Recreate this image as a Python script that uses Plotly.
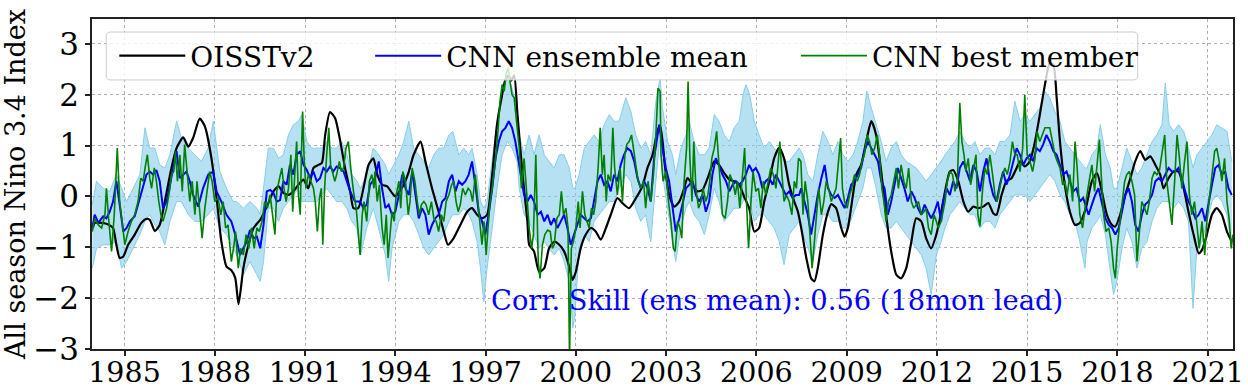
import plotly.graph_objects as go

# ---------------- data (decimal years, index values) ----------------
obs_t = [1983.95,1984.01,1984.24,1984.46,1984.62,1984.73,1984.84,1984.96,1985.12,1985.34,1985.56,1985.73,1985.84,
         1986.01,1986.17,1986.34,1986.56,1986.73,1986.95,1987.12,1987.28,1987.5,1987.67,1987.89,1988.06,1988.22,
         1988.39,1988.55,1988.68,1988.79,1988.95,1989.12,1989.29,1989.51,1989.73,1989.95,1990.12,1990.28,1990.45,
         1990.61,1990.78,1990.95,1991.11,1991.28,1991.44,1991.56,1991.67,1991.83,1992.0,1992.16,1992.33,1992.5,
         1992.61,1992.77,1992.94,1993.11,1993.27,1993.4,1993.56,1993.73,1993.89,1994.0,1994.17,1994.28,1994.45,
         1994.61,1994.84,1995.0,1995.22,1995.44,1995.61,1995.75,1995.94,1996.16,1996.39,1996.55,1996.72,1996.88,
         1997.05,1997.22,1997.38,1997.55,1997.66,1997.77,1997.85,1997.95,1998.06,1998.23,1998.39,1998.45,1998.61,
         1998.78,1998.95,1999.11,1999.28,1999.45,1999.61,1999.78,1999.89,2000.0,2000.16,2000.33,2000.5,2000.66,
         2000.83,2001.0,2001.16,2001.38,2001.55,2001.77,2002.0,2002.21,2002.38,2002.55,2002.71,2002.8,2002.88,
         2002.96,2003.1,2003.27,2003.44,2003.6,2003.71,2003.88,2004.04,2004.21,2004.38,2004.6,2004.76,2004.93,
         2005.1,2005.26,2005.43,2005.59,2005.76,2005.93,2006.09,2006.26,2006.43,2006.59,2006.76,2006.92,2007.09,
         2007.26,2007.38,2007.49,2007.66,2007.82,2007.93,2008.04,2008.21,2008.38,2008.49,2008.65,2008.82,2008.93,
         2009.04,2009.21,2009.32,2009.48,2009.65,2009.82,2009.98,2010.15,2010.31,2010.48,2010.65,2010.81,2010.98,
         2011.15,2011.31,2011.48,2011.64,2011.81,2011.98,2012.1,2012.27,2012.43,2012.54,2012.71,2012.88,2013.04,
         2013.21,2013.37,2013.54,2013.71,2013.87,2013.98,2014.15,2014.31,2014.48,2014.65,2014.76,2014.92,2015.09,
         2015.26,2015.42,2015.59,2015.75,2015.87,2015.98,2016.09,2016.25,2016.42,2016.59,2016.75,2016.95,2017.15,
         2017.32,2017.48,2017.65,2017.82,2017.93,2018.09,2018.26,2018.43,2018.59,2018.76,2018.92,2019.09,2019.26,
         2019.42,2019.53,2019.7,2019.87,2020.03,2020.2,2020.36,2020.53,2020.7,2020.81,2020.97,2021.14,2021.3,
         2021.47,2021.64,2021.8]
obs_v = [-0.62,-0.52,-0.52,-0.55,-0.62,-0.95,-1.21,-1.18,-0.95,-0.75,-0.52,-0.44,-0.46,
         -0.68,-0.56,-0.10,0.56,0.95,1.16,0.98,1.15,1.53,1.38,0.75,-0.03,-0.89,
         -1.38,-1.45,-1.60,-2.12,-1.41,-0.95,-0.62,-0.46,-0.20,0.10,0.20,0.07,0.03,
         0.10,0.23,0.33,0.16,0.56,0.62,0.66,1.21,1.66,1.54,1.12,0.56,0.10,
         -0.23,-0.23,0.16,0.62,0.75,0.43,0.23,0.20,0.07,0.00,0.13,0.23,0.49,
         0.82,1.08,0.69,0.16,-0.30,-0.69,-0.95,-0.82,-0.56,-0.30,-0.23,-0.36,-0.43,
         -0.36,0.43,1.41,2.00,2.30,2.38,2.28,2.38,1.61,0.43,-0.49,-0.95,-1.08,
         -1.48,-1.41,-1.02,-0.89,-0.95,-1.08,-1.38,-1.64,-1.48,-1.02,-0.75,-0.62,-0.69,
         -0.85,-0.62,-0.36,-0.03,-0.13,-0.23,-0.03,0.20,0.56,0.82,1.28,1.40,1.10,
         0.60,0.03,-0.20,-0.10,0.16,0.36,0.23,0.10,0.13,0.36,0.69,0.62,0.46,
         0.33,0.30,0.23,0.00,-0.23,-0.69,-0.62,-0.10,0.30,0.75,0.96,0.75,0.23,
         -0.10,-0.30,-0.62,-1.21,-1.61,-1.67,-1.41,-0.75,-0.30,-0.15,-0.23,-0.62,-0.79,
         -0.62,0.03,0.43,0.62,1.08,1.48,1.21,0.49,-0.36,-1.08,-1.54,-1.61,-1.41,
         -0.89,-0.43,-0.49,-0.82,-1.02,-0.75,-0.43,0.10,0.49,0.52,0.30,-0.10,-0.30,
         -0.20,-0.23,-0.20,-0.13,-0.33,-0.36,0.03,0.30,0.36,0.56,0.69,0.59,0.69,
         1.08,1.61,2.20,2.62,2.59,1.94,1.08,0.23,-0.30,-0.56,-0.52,-0.23,0.30,
         0.46,0.10,-0.36,-0.56,-0.59,-0.36,0.03,0.36,0.69,0.89,0.72,0.79,0.62,
         0.43,0.16,0.36,0.49,0.49,0.16,-0.30,-0.75,-1.12,-1.05,-0.75,-0.36,-0.23,
         -0.36,-0.69,-0.89]

ens_t = [1983.93,1984.01,1984.13,1984.29,1984.4,1984.51,1984.62,1984.73,1984.84,1984.96,1985.07,1985.18,1985.34,
         1985.45,1985.56,1985.73,1985.84,1985.95,1986.06,1986.17,1986.28,1986.4,1986.51,1986.65,1986.73,1986.84,
         1986.95,1987.06,1987.17,1987.28,1987.45,1987.61,1987.78,1987.95,1988.06,1988.22,1988.39,1988.55,1988.68,
         1988.84,1988.95,1989.06,1989.17,1989.29,1989.4,1989.51,1989.62,1989.73,1989.84,1989.95,1990.06,1990.17,
         1990.28,1990.39,1990.5,1990.61,1990.72,1990.84,1990.95,1991.06,1991.17,1991.28,1991.39,1991.5,1991.61,
         1991.72,1991.83,1991.94,1992.05,1992.16,1992.28,1992.39,1992.5,1992.66,1992.83,1992.94,1993.05,1993.16,
         1993.33,1993.45,1993.56,1993.67,1993.78,1993.89,1994.0,1994.12,1994.23,1994.34,1994.45,1994.56,1994.67,
         1994.78,1994.89,1995.0,1995.11,1995.22,1995.33,1995.44,1995.56,1995.67,1995.78,1995.89,1996.0,1996.11,
         1996.22,1996.33,1996.44,1996.55,1996.66,1996.77,1996.88,1996.99,1997.1,1997.22,1997.33,1997.44,1997.55,
         1997.66,1997.77,1997.88,1997.99,1998.06,1998.17,1998.28,1998.39,1998.5,1998.61,1998.73,1998.84,1998.95,
         1999.06,1999.17,1999.28,1999.39,1999.5,1999.61,1999.72,1999.83,1999.94,2000.05,2000.16,2000.28,2000.39,
         2000.5,2000.61,2000.72,2000.83,2000.94,2001.05,2001.16,2001.27,2001.38,2001.49,2001.6,2001.71,2001.83,
         2001.94,2002.05,2002.16,2002.27,2002.38,2002.49,2002.6,2002.71,2002.77,2002.88,2002.99,2003.1,2003.21,
         2003.32,2003.44,2003.55,2003.66,2003.77,2003.88,2003.99,2004.1,2004.21,2004.32,2004.43,2004.54,2004.65,
         2004.76,2004.87,2004.99,2005.1,2005.21,2005.32,2005.43,2005.54,2005.65,2005.76,2005.87,2005.98,2006.09,
         2006.2,2006.31,2006.43,2006.54,2006.65,2006.76,2006.87,2006.98,2007.09,2007.2,2007.31,2007.42,2007.49,
         2007.6,2007.71,2007.82,2007.93,2008.04,2008.16,2008.27,2008.38,2008.49,2008.6,2008.71,2008.82,2008.93,
         2009.04,2009.15,2009.26,2009.37,2009.48,2009.59,2009.71,2009.82,2009.93,2010.04,2010.15,2010.26,2010.37,
         2010.48,2010.59,2010.7,2010.81,2010.92,2011.03,2011.15,2011.26,2011.37,2011.48,2011.59,2011.7,2011.81,
         2011.92,2012.03,2012.14,2012.21,2012.32,2012.43,2012.54,2012.65,2012.76,2012.88,2012.99,2013.1,2013.21,
         2013.32,2013.43,2013.54,2013.65,2013.76,2013.87,2013.98,2014.09,2014.2,2014.31,2014.43,2014.54,2014.65,
         2014.76,2014.87,2014.98,2015.09,2015.2,2015.31,2015.42,2015.53,2015.64,2015.75,2015.87,2015.98,2016.09,
         2016.2,2016.31,2016.42,2016.53,2016.64,2016.75,2016.86,2016.93,2017.04,2017.15,2017.26,2017.37,2017.48,
         2017.6,2017.71,2017.82,2017.93,2018.04,2018.15,2018.26,2018.37,2018.48,2018.59,2018.7,2018.81,2018.92,
         2019.03,2019.15,2019.26,2019.37,2019.48,2019.59,2019.7,2019.81,2019.92,2020.03,2020.14,2020.25,2020.36,
         2020.47,2020.59,2020.7,2020.81,2020.92,2021.03,2021.14,2021.25,2021.36,2021.47,2021.58,2021.69,2021.8]
ens_v = [-0.62,-0.36,-0.52,-0.39,-0.43,-0.30,-0.10,0.30,-0.16,-0.69,-0.62,-0.49,-0.39,
         -0.16,0.10,0.43,0.49,0.43,0.52,0.30,-0.23,-0.10,0.23,0.69,0.89,0.36,
         0.43,0.49,0.30,0.03,-0.20,0.16,0.43,0.49,0.10,-0.10,-0.36,-0.49,-0.75,
         -1.15,-1.02,-0.89,-0.66,-0.82,-0.79,-1.02,-0.56,0.10,0.13,0.07,-0.10,-0.07,
         0.30,0.23,0.62,0.43,0.82,0.89,0.62,0.52,0.36,0.49,0.30,0.36,0.56,
         0.49,0.59,0.49,0.59,0.56,0.49,0.30,0.10,-0.10,-0.10,-0.23,-0.16,0.23,
         0.36,0.69,0.16,-0.23,-0.16,-0.36,-0.30,0.03,0.43,0.16,0.03,0.49,0.03,
         -0.43,-0.23,-0.36,-0.75,-0.56,-0.43,-0.36,-0.10,-0.03,0.30,0.43,0.10,0.30,
         0.23,0.30,0.43,0.69,0.23,-0.30,-0.49,-0.75,-0.36,0.16,0.75,1.08,1.28,
         1.35,1.48,1.35,1.08,0.82,0.36,0.03,-0.10,0.03,-0.10,-0.36,-0.30,-0.49,
         -0.36,-0.56,-0.43,-0.62,-0.49,-0.36,-0.62,-0.95,-0.75,-0.56,-0.36,-0.43,-0.49,
         -0.43,-0.10,0.30,0.43,0.23,0.30,0.10,0.43,0.30,0.62,0.82,0.95,0.89,
         0.69,0.36,0.16,0.30,0.16,-0.10,0.75,1.20,1.41,0.95,0.56,0.30,-0.23,
         -0.69,-0.43,-0.10,0.16,0.23,0.30,0.03,-0.10,0.03,-0.30,-0.10,0.43,0.75,
         0.62,0.43,0.30,0.10,0.23,0.30,0.23,0.30,0.43,0.62,0.49,0.56,0.43,
         0.16,0.30,0.36,0.23,0.43,0.30,0.16,0.03,0.10,-0.03,0.03,0.03,0.16,
         -0.10,-0.36,-0.75,-0.36,0.03,0.36,0.62,0.16,0.03,-0.03,0.03,-0.10,-0.23,
         -0.03,0.23,0.30,0.43,0.56,0.89,1.08,0.95,0.82,0.69,0.30,0.16,-0.36,
         -0.10,0.23,0.56,0.36,0.16,-0.10,0.10,-0.03,-0.23,-0.36,-0.16,-0.30,-0.43,
         -0.30,-0.10,-0.49,-0.10,0.16,0.03,0.30,0.16,0.56,0.69,0.49,0.30,0.62,
         0.49,0.10,0.49,0.75,0.30,0.03,-0.10,0.23,0.49,0.23,0.43,0.69,0.95,
         0.82,0.62,0.75,0.82,0.69,0.95,0.89,1.02,1.21,1.08,0.89,0.82,0.62,
         0.43,0.49,0.30,0.10,0.16,-0.10,-0.03,-0.16,-0.36,-0.16,0.03,0.16,-0.10,
         -0.43,-0.56,-0.62,-0.75,-0.62,-0.30,0.03,0.16,-0.10,-0.56,-0.69,-0.36,-0.16,
         -0.10,0.03,0.30,0.36,0.30,0.43,0.56,0.49,0.49,0.56,0.36,0.10,-0.10,
         -0.23,-0.43,-0.36,-0.23,-0.49,-0.10,0.23,0.56,0.62,0.43,0.49,0.16,0.03]

best_t = [1983.93,1984.01,1984.13,1984.24,1984.35,1984.4,1984.48,1984.57,1984.66,1984.76,1984.84,1984.93,1985.01,
          1985.12,1985.23,1985.34,1985.45,1985.54,1985.62,1985.7,1985.76,1985.84,1985.9,1985.99,1986.06,1986.14,
          1986.21,1986.28,1986.4,1986.51,1986.56,1986.64,1986.69,1986.76,1986.84,1986.92,1987.0,1987.08,1987.17,
          1987.25,1987.34,1987.41,1987.5,1987.58,1987.67,1987.75,1987.83,1987.91,1988.0,1988.11,1988.2,1988.28,
          1988.36,1988.44,1988.55,1988.64,1988.69,1988.78,1988.86,1988.95,1989.04,1989.13,1989.22,1989.31,1989.4,
          1989.48,1989.57,1989.66,1989.75,1989.84,1989.93,1990.0,1990.06,1990.15,1990.23,1990.3,1990.37,1990.45,
          1990.53,1990.59,1990.67,1990.72,1990.78,1990.84,1990.88,1990.92,1990.97,1991.03,1991.11,1991.19,1991.28,
          1991.34,1991.41,1991.48,1991.54,1991.59,1991.65,1991.72,1991.79,1991.85,1991.92,1991.99,1992.05,1992.14,
          1992.21,1992.28,1992.36,1992.44,1992.52,1992.61,1992.7,1992.77,1992.83,1992.9,1992.96,1993.05,1993.14,
          1993.22,1993.29,1993.32,1993.4,1993.47,1993.56,1993.63,1993.7,1993.76,1993.83,1993.89,1993.96,1994.03,
          1994.12,1994.18,1994.25,1994.34,1994.43,1994.49,1994.56,1994.65,1994.73,1994.8,1994.87,1994.95,1995.02,
          1995.11,1995.2,1995.28,1995.36,1995.44,1995.53,1995.61,1995.69,1995.78,1995.87,1995.94,1996.02,1996.09,
          1996.16,1996.24,1996.33,1996.42,1996.5,1996.57,1996.66,1996.75,1996.83,1996.88,1996.95,1997.02,1997.08,
          1997.15,1997.22,1997.28,1997.35,1997.42,1997.48,1997.55,1997.62,1997.68,1997.75,1997.81,1997.88,1997.95,
          1998.04,1998.12,1998.19,1998.28,1998.37,1998.45,1998.53,1998.59,1998.67,1998.75,1998.81,1998.89,1998.97,
          1999.06,1999.15,1999.22,1999.28,1999.37,1999.45,1999.52,1999.59,1999.67,1999.74,1999.79,1999.85,1999.92,
          2000.0,2000.08,2000.14,2000.22,2000.3,2000.36,2000.44,2000.52,2000.59,2000.66,2000.74,2000.81,2000.88,
          2000.94,2001.01,2001.07,2001.16,2001.23,2001.29,2001.38,2001.47,2001.55,2001.63,2001.69,2001.77,2001.85,
          2001.91,2001.99,2002.07,2002.16,2002.25,2002.32,2002.4,2002.49,2002.58,2002.66,2002.73,2002.8,2002.83,
          2002.9,2002.99,2003.08,2003.16,2003.24,2003.3,2003.38,2003.46,2003.52,2003.6,2003.68,2003.73,2003.79,
          2003.86,2003.92,2003.99,2004.08,2004.16,2004.23,2004.32,2004.39,2004.45,2004.52,2004.6,2004.68,2004.74,
          2004.82,2004.87,2004.96,2005.04,2005.12,2005.21,2005.3,2005.37,2005.45,2005.54,2005.61,2005.67,2005.74,
          2005.82,2005.89,2005.98,2006.07,2006.15,2006.23,2006.31,2006.4,2006.48,2006.56,2006.65,2006.71,2006.78,
          2006.85,2006.92,2007.0,2007.09,2007.18,2007.26,2007.33,2007.4,2007.48,2007.55,2007.62,2007.71,2007.78,
          2007.85,2007.91,2007.99,2008.07,2008.16,2008.24,2008.32,2008.4,2008.49,2008.58,2008.65,2008.73,2008.8,
          2008.86,2008.93,2009.02,2009.1,2009.17,2009.26,2009.35,2009.43,2009.51,2009.59,2009.68,2009.76,2009.84,
          2009.93,2010.02,2010.09,2010.17,2010.24,2010.31,2010.39,2010.48,2010.57,2010.65,2010.72,2010.81,2010.9,
          2010.98,2011.06,2011.15,2011.23,2011.31,2011.39,2011.48,2011.57,2011.64,2011.72,2011.81,2011.9,2011.98,
          2012.05,2012.14,2012.19,2012.27,2012.34,2012.43,2012.52,2012.6,2012.68,2012.76,2012.83,2012.9,2012.96,
          2013.04,2013.12,2013.21,2013.3,2013.36,2013.43,2013.52,2013.6,2013.67,2013.76,2013.85,2013.93,2014.0,
          2014.09,2014.18,2014.26,2014.34,2014.43,2014.51,2014.59,2014.67,2014.76,2014.85,2014.92,2015.0,2015.09,
          2015.18,2015.26,2015.33,2015.42,2015.51,2015.59,2015.67,2015.75,2015.84,2015.92,2016.0,2016.09,2016.18,
          2016.25,2016.33,2016.42,2016.51,2016.59,2016.66,2016.75,2016.84,2016.95,2017.06,2017.15,2017.24,2017.32,
          2017.4,2017.46,2017.54,2017.62,2017.71,2017.79,2017.87,2017.93,2017.99,2018.06,2018.15,2018.24,2018.31,
          2018.39,2018.48,2018.57,2018.65,2018.73,2018.81,2018.9,2018.98,2019.06,2019.15,2019.23,2019.31,2019.39,
          2019.48,2019.57,2019.64,2019.72,2019.81,2019.9,2019.98,2020.05,2020.14,2020.23,2020.31,2020.39,2020.47,
          2020.56,2020.64,2020.72,2020.81,2020.9,2020.97,2021.05,2021.14,2021.23,2021.3,2021.38,2021.47,2021.56,
          2021.64,2021.71,2021.78,2021.84]
best_v = [-0.69,-0.43,-0.56,-0.62,-0.36,0.16,-0.49,-1.08,-0.36,0.95,-0.10,-0.62,-0.95,
          -0.69,-0.49,-0.36,-0.10,0.36,0.30,0.62,0.82,0.36,0.16,0.56,0.30,-0.10,
          -0.36,-0.49,-0.23,0.16,0.43,0.49,0.89,0.30,0.82,0.10,1.02,0.49,-0.10,
          0.30,-0.36,0.30,-0.23,-0.82,-0.23,0.10,0.49,0.30,-0.10,-0.03,-0.36,-0.10,
          -0.62,-0.56,-1.28,-0.95,-0.69,-1.41,-1.02,-1.15,-0.75,-1.02,-0.62,-1.02,-0.62,
          -0.69,-0.49,-0.10,-0.23,0.03,-0.36,-0.75,0.10,0.36,0.56,0.16,-0.10,0.16,
          0.82,-0.30,0.43,1.08,0.03,-0.36,0.82,1.67,0.75,0.16,0.43,0.30,0.16,
          -0.10,-0.69,-0.03,0.16,-0.95,0.16,0.82,1.35,0.62,0.43,0.30,0.43,0.69,
          0.49,0.56,0.95,1.08,0.56,0.10,-0.23,-0.69,-1.15,-0.36,-0.10,-0.49,0.30,
          0.43,0.16,0.49,-0.10,0.23,-0.62,-0.95,-0.36,-1.21,-0.62,-0.30,-0.49,0.03,
          0.30,-0.23,0.49,0.30,-0.36,-0.10,0.56,0.30,-0.10,-0.36,-0.16,-0.10,-0.16,
          -0.36,-0.10,-0.43,-0.49,-0.69,-0.36,-0.49,-0.10,0.03,0.23,0.30,-0.10,-0.30,
          -0.16,0.16,0.03,0.16,0.10,-0.10,0.43,-0.10,-0.69,-0.95,-0.49,-1.15,-0.62,
          -0.10,0.16,0.43,0.82,1.35,1.87,2.20,2.07,2.40,2.53,2.27,2.00,1.94,
          1.41,0.95,0.16,0.75,0.03,-0.62,-1.02,-0.75,0.82,-1.28,-1.61,-0.95,-0.75,
          -0.66,-0.69,-1.02,-0.95,-0.43,-0.36,0.10,-0.36,-0.23,-0.62,-3.20,-1.02,-0.89,
          -0.62,-0.10,-0.62,0.10,-0.36,-0.49,-0.62,-0.23,-0.36,-0.10,0.56,1.35,0.43,
          0.82,-0.10,0.43,0.30,1.35,0.56,0.03,0.56,-0.10,0.82,1.02,1.08,1.21,
          0.95,0.56,0.30,0.16,0.30,-0.23,0.30,-0.10,0.43,1.21,2.13,2.07,0.82,
          0.30,0.49,-0.10,-0.49,-1.02,-1.08,-0.49,-0.62,-0.82,0.30,0.95,2.26,0.75,
          -0.10,1.08,0.16,-0.23,-0.10,0.16,-0.10,0.03,0.30,0.75,0.95,1.28,0.75,
          0.16,-0.36,-0.43,-0.10,0.43,0.30,0.03,0.30,-0.23,0.43,0.95,-0.10,-1.02,
          -0.10,0.49,0.10,0.16,-0.23,0.30,0.03,0.30,0.56,0.43,0.16,0.56,1.08,
          0.43,-0.10,0.03,-0.10,-0.36,0.30,0.16,0.75,0.69,-0.36,0.30,-0.10,-0.75,
          -1.41,-1.02,-0.36,0.16,-0.36,-0.10,0.30,0.16,-0.10,0.03,0.16,0.69,1.15,
          0.16,-0.10,-0.23,0.03,0.16,0.43,0.30,0.43,0.69,0.82,1.21,1.08,0.82,
          0.95,1.21,0.82,0.16,-0.10,-0.49,-0.10,0.03,0.30,0.56,0.16,0.62,0.30,
          0.16,0.56,-0.10,-0.23,-0.16,-0.10,-0.36,-0.30,-0.23,-0.62,-0.75,-0.36,-0.49,
          -0.62,-0.49,-0.36,-0.10,0.30,0.49,0.43,0.10,0.30,1.84,1.08,0.82,0.49,
          0.75,0.23,0.49,0.82,-0.36,-0.59,0.16,0.56,0.43,0.82,0.43,0.03,-0.10,
          0.16,0.43,0.56,0.43,0.69,1.08,0.82,0.82,0.49,0.95,2.00,0.82,0.69,
          0.49,0.75,1.28,1.08,1.21,1.35,1.35,1.35,1.08,0.82,0.69,0.56,0.23,
          0.30,0.03,0.43,-0.10,1.08,0.56,-0.36,-0.62,-0.10,0.30,0.62,0.10,0.56,
          1.12,0.43,-0.36,-0.69,-0.62,-0.89,-1.41,-1.61,-1.02,-0.62,-0.10,0.30,0.43,
          0.49,0.30,0.03,-1.28,-0.75,-0.10,-0.23,-0.36,-0.10,0.36,0.49,0.43,0.49,
          0.89,1.21,0.30,-0.10,-0.56,0.30,1.21,0.82,0.16,0.69,1.08,0.03,-0.36,
          -0.10,-0.62,-1.02,-0.49,-1.15,-0.49,-0.10,0.43,0.89,0.95,0.69,0.30,0.75,
          -0.10,-0.43,-1.02,-0.75]

# spread of the individual CNN ensemble members (max / min)
mem_t = [1983.93,1984.07,1984.29,1984.51,1984.73,1984.9,1985.07,1985.29,1985.51,1985.68,1985.84,1986.01,1986.17,
         1986.34,1986.51,1986.73,1986.89,1987.12,1987.34,1987.56,1987.78,1987.95,1988.17,1988.39,1988.61,1988.73,
         1988.95,1989.17,1989.4,1989.51,1989.62,1989.78,1989.95,1990.12,1990.28,1990.45,1990.61,1990.78,1990.89,
         1991.06,1991.22,1991.39,1991.56,1991.72,1991.89,1992.05,1992.22,1992.39,1992.55,1992.72,1992.85,1993.05,
         1993.27,1993.45,1993.67,1993.78,1993.89,1994.12,1994.28,1994.45,1994.61,1994.78,1994.95,1995.11,1995.28,
         1995.44,1995.61,1995.78,1995.91,1996.11,1996.28,1996.44,1996.55,1996.72,1996.83,1996.94,1997.05,1997.22,
         1997.38,1997.55,1997.72,1997.88,1998.05,1998.12,1998.28,1998.45,1998.61,1998.78,1998.95,1999.11,1999.28,
         1999.45,1999.61,1999.78,1999.9,1999.97,2000.11,2000.28,2000.44,2000.61,2000.77,2000.94,2001.11,2001.27,
         2001.44,2001.66,2001.83,2001.99,2002.16,2002.32,2002.49,2002.66,2002.8,2002.88,2003.05,2003.21,2003.32,
         2003.49,2003.66,2003.77,2003.93,2004.1,2004.27,2004.43,2004.6,2004.76,2004.93,2005.1,2005.26,2005.43,
         2005.56,2005.65,2005.78,2005.93,2006.09,2006.26,2006.43,2006.59,2006.76,2006.92,2007.09,2007.26,2007.42,
         2007.55,2007.71,2007.88,2008.04,2008.21,2008.38,2008.54,2008.71,2008.88,2009.04,2009.21,2009.37,2009.54,
         2009.67,2009.82,2009.98,2010.15,2010.31,2010.48,2010.65,2010.81,2010.98,2011.15,2011.31,2011.48,2011.64,
         2011.81,2011.98,2012.14,2012.27,2012.43,2012.6,2012.76,2012.93,2013.1,2013.26,2013.43,2013.6,2013.76,
         2013.93,2014.09,2014.26,2014.43,2014.59,2014.76,2014.92,2015.09,2015.26,2015.42,2015.59,2015.75,2015.92,
         2016.09,2016.25,2016.42,2016.59,2016.75,2016.92,2016.99,2017.15,2017.32,2017.43,2017.6,2017.76,2017.87,
         2017.98,2018.15,2018.31,2018.48,2018.65,2018.81,2018.98,2019.15,2019.31,2019.48,2019.59,2019.72,2019.87,
         2020.03,2020.2,2020.36,2020.51,2020.64,2020.81,2020.97,2021.14,2021.3,2021.47,2021.64,2021.8]
mem_hi = [-0.16,0.30,0.16,0.10,0.43,0.16,-0.10,0.16,0.43,1.35,0.95,0.95,0.62,
          0.56,0.82,1.48,1.15,0.95,0.82,0.69,0.95,1.48,0.49,0.16,-0.10,-0.10,
          -0.23,-0.10,-0.23,-0.36,0.16,0.95,0.95,0.75,0.82,1.21,1.41,1.48,1.61,
          1.08,0.95,0.95,0.95,1.08,0.95,0.95,1.08,0.82,0.43,0.30,0.16,0.43,
          0.95,0.82,0.62,0.43,0.56,0.82,1.08,1.48,0.95,0.82,0.69,0.56,0.82,
          0.95,0.95,1.21,1.28,0.82,0.95,0.82,0.95,0.43,-0.10,-0.23,-0.10,0.69,
          1.48,2.00,2.40,2.13,1.74,1.21,0.82,1.21,0.82,1.21,0.82,0.69,0.56,
          0.82,0.82,0.56,0.16,0.16,0.43,0.95,1.08,1.21,1.08,1.41,1.61,1.48,
          1.48,1.94,1.67,1.21,0.95,1.08,0.82,1.87,2.33,1.74,1.08,0.82,0.43,
          0.95,1.21,1.48,1.08,0.82,0.82,0.95,1.61,1.48,1.21,1.08,1.35,1.48,
          2.00,2.20,2.00,1.48,1.21,0.95,1.08,0.95,0.82,0.69,0.69,0.82,0.95,
          0.82,0.43,0.30,0.82,1.28,1.08,0.82,1.08,0.82,0.69,0.82,1.08,1.48,
          2.07,1.74,1.41,1.08,0.69,0.95,1.08,0.82,0.69,0.62,0.56,0.43,0.30,
          0.43,0.56,0.69,0.82,0.95,1.08,1.28,1.08,0.95,1.08,0.82,0.95,0.95,
          0.82,1.08,1.08,1.21,1.87,1.48,1.61,1.48,1.61,1.74,2.07,1.94,1.67,
          1.48,1.08,0.95,0.82,0.69,0.56,0.56,0.82,0.95,1.41,0.82,0.56,0.16,
          0.16,0.56,0.95,0.69,0.43,0.56,0.82,1.08,1.21,1.41,2.23,1.41,1.28,
          1.41,1.28,0.95,0.56,0.82,0.95,1.08,1.21,1.41,1.35,1.28,0.69]
mem_lo = [-1.41,-1.02,-0.95,-0.95,-0.89,-1.41,-1.28,-1.02,-0.75,-0.49,-0.36,-0.56,-0.69,
          -0.95,-0.49,-0.10,-0.10,-0.36,-0.49,-0.49,-0.36,-0.23,-0.62,-0.75,-1.02,-1.15,
          -1.54,-1.28,-1.54,-1.67,-1.28,-0.23,-0.23,-0.49,-0.23,-0.10,0.03,0.16,-0.10,
          -0.10,-0.10,-0.10,0.03,0.16,0.03,-0.10,-0.10,-0.23,-0.49,-0.62,-1.15,-0.62,
          -0.23,-0.62,-1.15,-1.67,-1.02,-0.49,-0.36,-0.36,-0.49,-0.75,-1.02,-1.15,-1.02,
          -0.89,-0.75,-0.49,-0.36,-0.36,-0.23,-0.36,-0.49,-0.89,-1.41,-2.07,-1.41,-0.62,
          0.16,0.82,1.08,0.95,0.69,0.16,-0.36,-0.49,-0.75,-1.02,-0.89,-1.02,-1.15,
          -1.02,-1.28,-1.67,-2.59,-2.33,-1.02,-0.75,-0.89,-0.49,-0.36,-0.23,-0.10,-0.10,
          0.16,0.43,0.30,-0.23,-0.49,-0.36,-0.89,0.30,1.21,0.43,-0.23,-0.89,-1.28,
          -0.62,-0.23,-0.10,-0.36,-0.49,-0.75,-0.36,0.16,-0.10,-0.49,-0.36,-0.23,-0.23,
          -0.10,0.16,-0.10,-0.49,-0.36,-0.36,-0.49,-0.62,-0.89,-1.34,-0.75,-0.62,-0.49,
          -0.75,-1.02,-1.28,-0.75,-0.36,-0.36,-0.49,-0.49,-0.62,-0.62,-0.36,-0.10,0.16,
          0.56,0.56,0.16,-0.36,-0.62,-0.62,-0.49,-0.62,-0.75,-0.89,-1.02,-1.15,-1.41,
          -1.93,-1.15,-0.89,-0.62,-0.36,-0.23,-0.10,-0.23,-0.36,-0.36,-0.62,-0.49,-0.49,
          -0.62,-0.36,-0.23,-0.10,0.03,0.03,0.03,-0.10,0.03,0.16,0.30,0.43,0.30,
          0.03,-0.10,-0.36,-0.49,-0.89,-1.41,-0.89,-0.62,-0.49,-0.36,-0.75,-1.41,-1.93,
          -1.67,-1.02,-0.62,-0.89,-1.41,-1.02,-0.89,-0.49,-0.23,-0.10,-0.10,-0.10,-0.23,
          -0.10,-0.23,-0.49,-2.20,-1.02,-0.89,-0.49,-0.10,0.03,-0.10,-0.36,-1.02]

year_ticks = [1985, 1988, 1991, 1994, 1997, 2000, 2003, 2006, 2009, 2012, 2015, 2018, 2021]
y_ticks = [-3, -2, -1, 0, 1, 2, 3]
skill_text = "Corr. Skill (ens mean): 0.56 (18mon lead)"

# ---------------- figure ----------------
FONT = "DejaVu Serif"
SKY = "#87CEEB"

fig = go.Figure()
fig.add_trace(go.Scatter(x=mem_t, y=mem_lo, mode="lines", line=dict(color=SKY, width=1),
                         showlegend=False, hoverinfo="skip"))
fig.add_trace(go.Scatter(x=mem_t, y=mem_hi, mode="lines", line=dict(color=SKY, width=1),
                         fill="tonexty", fillcolor="rgba(135,206,235,0.62)",
                         showlegend=False, hoverinfo="skip"))
fig.add_trace(go.Scatter(x=obs_t, y=obs_v, mode="lines", name="OISSTv2", legend="legend",
                         line=dict(color="black", width=2.2, shape="spline", smoothing=0.6)))
fig.add_trace(go.Scatter(x=ens_t, y=ens_v, mode="lines", name="CNN ensemble mean", legend="legend2",
                         line=dict(color="#0000FF", width=2)))
fig.add_trace(go.Scatter(x=best_t, y=best_v, mode="lines", name="CNN best member", legend="legend3",
                         line=dict(color="green", width=1.6)))

fig.add_annotation(x=1997.12, y=-2.04, xref="x", yref="y", text=skill_text, showarrow=False,
                   xanchor="left", yanchor="middle", font=dict(family=FONT, size=27.3, color="#0000FF"))

# legend frame (rounded, semi-transparent white, drawn above the data)
x0, x1, y0, y1 = 0.0125, 0.9165, 0.8153, 0.9606
rx, ry = 0.004, 0.013
frame = (f"M {x0+rx},{y0} L {x1-rx},{y0} Q {x1},{y0} {x1},{y0+ry} L {x1},{y1-ry} "
         f"Q {x1},{y1} {x1-rx},{y1} L {x0+rx},{y1} Q {x0},{y1} {x0},{y1-ry} "
         f"L {x0},{y0+ry} Q {x0},{y0} {x0+rx},{y0} Z")
fig.add_shape(type="path", path=frame, xref="paper", yref="paper", layer="above",
              fillcolor="rgba(255,255,255,0.8)", line=dict(color="#cccccc", width=1))

axis_common = dict(showline=True, linecolor="#222222", linewidth=1.5, mirror=True,
                   ticks="outside", ticklen=5, tickwidth=1.5, tickcolor="#222222",
                   showgrid=True, gridcolor="#b0b0b0", griddash="dot", gridwidth=1,
                   zeroline=False, automargin=False)

fig.update_xaxes(range=[1983.92, 2021.84], tickvals=year_ticks,
                 ticktext=[str(y) for y in year_ticks], ticklabelstandoff=-8,
                 tickfont=dict(family=FONT, size=28.5, color="black"), **axis_common)
fig.update_yaxes(range=[-3, 3.49], tickvals=y_ticks,
                 ticktext=[("\u2212" + str(-v)) if v < 0 else str(v) for v in y_ticks],
                 tickfont=dict(family=FONT, size=31, color="black"),
                 title=dict(text="All season Nino 3.4 Index", font=dict(family=FONT, size=27, color="black"),
                            standoff=6),
                 **axis_common)

leg_common = dict(orientation="h", y=0.888, xanchor="left", yanchor="middle",
                  font=dict(family=FONT, size=28, color="black"),
                  bgcolor="rgba(0,0,0,0)", borderwidth=0, itemwidth=66)

fig.update_layout(
    width=1248, height=388,
    margin=dict(l=92, r=15, t=19, b=39),
    paper_bgcolor="white", plot_bgcolor="white",
    font=dict(family=FONT, color="black"),
    showlegend=True,
    legend=dict(x=(114 - 91.7) / 1141.6, **leg_common),
    legend2=dict(x=(370 - 91.7) / 1141.6, **leg_common),
    legend3=dict(x=(796 - 91.7) / 1141.6, **leg_common),
)

fig.write_html("out.html", config={"displayModeBar": False})

# remove the browser's default page margin so the figure sits at the window origin
with open("out.html", "r", encoding="utf-8") as fh:
    html = fh.read()
html = html.replace("<head>", "<head><style>html,body{margin:0;padding:0;overflow:hidden;}</style>", 1)
with open("out.html", "w", encoding="utf-8") as fh:
    fh.write(html)
